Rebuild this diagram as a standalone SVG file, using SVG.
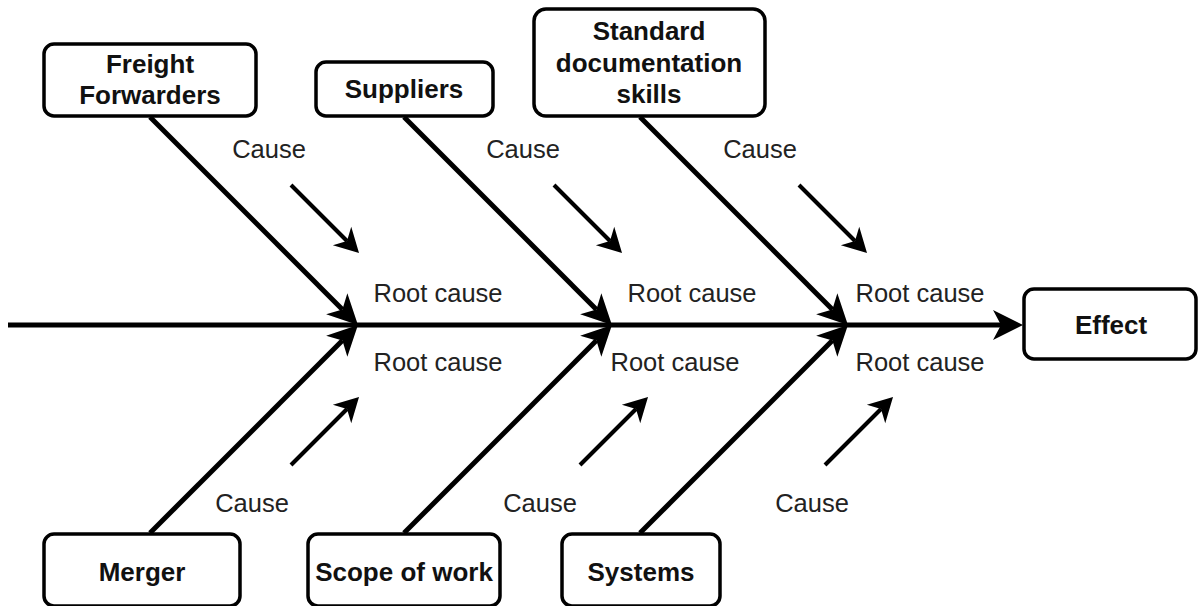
<svg xmlns="http://www.w3.org/2000/svg" width="1200" height="606" viewBox="0 0 1200 606">
  <style>
    .box { fill: #ffffff; stroke: #000000; stroke-width: 3.5; }
    .lbl { font-family: "Liberation Sans", Arial, sans-serif; font-size: 26px; font-weight: bold; fill: #111111; text-anchor: middle; }
    .txt { font-family: "Liberation Sans", Arial, sans-serif; font-size: 25.5px; fill: #222222; text-anchor: middle; }
    .bone { stroke: #000000; stroke-width: 5; fill: none; }
    .twig { stroke: #000000; stroke-width: 4; fill: none; }
  </style>
  <defs>
    <!-- notch sits on the line end; tip extends beyond it -->
    <marker id="head-big" markerUnits="userSpaceOnUse" markerWidth="60" markerHeight="60" refX="0" refY="0" orient="auto" overflow="visible">
      <path d="M22,0 L-8,-15 L0,0 L-8,15 Z" fill="#000000"/>
    </marker>
    <marker id="head-small" markerUnits="userSpaceOnUse" markerWidth="40" markerHeight="40" refX="0" refY="0" orient="auto" overflow="visible">
      <path d="M17,0 L-7,-13 L0,0 L-7,13 Z" fill="#000000"/>
    </marker>
  </defs>

  <!-- spine and bones -->
  <g id="connectors">
    <line class="bone" x1="8" y1="325" x2="1001" y2="325" marker-end="url(#head-big)"/>

    <line class="bone" x1="150" y1="117" x2="342.4" y2="309.4" marker-end="url(#head-big)"/>
    <line class="bone" x1="404" y1="117" x2="596.4" y2="309.4" marker-end="url(#head-big)"/>
    <line class="bone" x1="640" y1="117" x2="832.4" y2="309.4" marker-end="url(#head-big)"/>

    <line class="bone" x1="150" y1="533" x2="342.4" y2="340.6" marker-end="url(#head-big)"/>
    <line class="bone" x1="404" y1="533" x2="596.4" y2="340.6" marker-end="url(#head-big)"/>
    <line class="bone" x1="640" y1="533" x2="832.4" y2="340.6" marker-end="url(#head-big)"/>

    <line class="twig" x1="291" y1="185" x2="347" y2="241" marker-end="url(#head-small)"/>
    <line class="twig" x1="554" y1="185" x2="610" y2="241" marker-end="url(#head-small)"/>
    <line class="twig" x1="799" y1="185" x2="855" y2="241" marker-end="url(#head-small)"/>

    <line class="twig" x1="291" y1="465" x2="347" y2="409" marker-end="url(#head-small)"/>
    <line class="twig" x1="580" y1="465" x2="636" y2="409" marker-end="url(#head-small)"/>
    <line class="twig" x1="825" y1="465" x2="881" y2="409" marker-end="url(#head-small)"/>
  </g>

  <!-- cause / root cause labels -->
  <g id="labels">
    <text class="txt" x="269" y="158">Cause</text>
    <text class="txt" x="523" y="158">Cause</text>
    <text class="txt" x="760" y="158">Cause</text>
    <text class="txt" x="252" y="512">Cause</text>
    <text class="txt" x="540" y="512">Cause</text>
    <text class="txt" x="812" y="512">Cause</text>

    <text class="txt" x="438" y="302">Root cause</text>
    <text class="txt" x="692" y="302">Root cause</text>
    <text class="txt" x="920" y="302">Root cause</text>
    <text class="txt" x="438" y="371">Root cause</text>
    <text class="txt" x="675" y="371">Root cause</text>
    <text class="txt" x="920" y="371">Root cause</text>
  </g>

  <g id="node-freight">
    <rect class="box" x="44" y="44" width="212" height="72" rx="10"/>
    <text class="lbl" x="150" y="73">Freight</text>
    <text class="lbl" x="150" y="104">Forwarders</text>
  </g>
  <g id="node-suppliers">
    <rect class="box" x="316" y="62" width="177" height="54" rx="10"/>
    <text class="lbl" x="404" y="98">Suppliers</text>
  </g>
  <g id="node-standard">
    <rect class="box" x="534" y="9" width="231" height="107" rx="12"/>
    <text class="lbl" x="649" y="40">Standard</text>
    <text class="lbl" x="649" y="72">documentation</text>
    <text class="lbl" x="649" y="103">skills</text>
  </g>
  <g id="node-effect">
    <rect class="box" x="1024" y="289" width="172" height="70" rx="10"/>
    <text class="lbl" x="1111" y="334">Effect</text>
  </g>
  <g id="node-merger">
    <rect class="box" x="44" y="534" width="196" height="72" rx="10"/>
    <text class="lbl" x="142" y="581">Merger</text>
  </g>
  <g id="node-scope">
    <rect class="box" x="308" y="534" width="192" height="72" rx="10"/>
    <text class="lbl" x="404" y="581">Scope of work</text>
  </g>
  <g id="node-systems">
    <rect class="box" x="562" y="534" width="158" height="72" rx="10"/>
    <text class="lbl" x="641" y="581">Systems</text>
  </g>
</svg>
